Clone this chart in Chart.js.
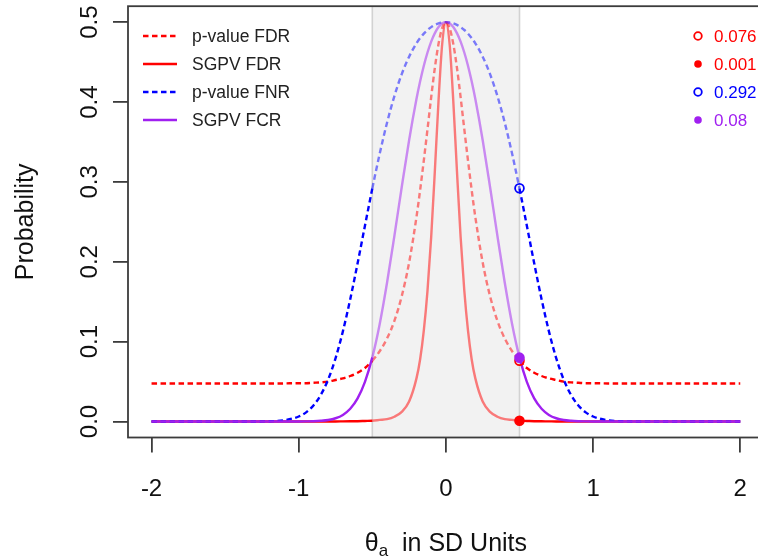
<!DOCTYPE html>
<html>
<head>
<meta charset="utf-8">
<title>SGPV error rates</title>
<script src="https://cdn.jsdelivr.net/npm/chart.js@4/dist/chart.umd.min.js"></script>
<style>
	html, body { margin: 0; padding: 0; background: #fff; overflow: hidden; width: 758px; height: 560px; }
	#sgpv-chart { position: absolute; left: 0; top: 0; }
</style>
</head>
<body>
<canvas id="sgpv-chart" width="770" height="560"></canvas>
<script>
'use strict';

/*================ Data ================*/

var thetaGrid = [-2, -1.8, -1.6, -1.4, -1.3, -1.2, -1.1, -1, -0.95, -0.9, -0.85, -0.8, -0.75, -0.7, -0.65, -0.6, -0.55, -0.5, -0.45, -0.4, -0.35, -0.3, -0.25, -0.2, -0.175, -0.15, -0.125, -0.1, -0.075, -0.05, -0.025,
	0, 0.025, 0.05, 0.075, 0.1, 0.125, 0.15, 0.175, 0.2, 0.25, 0.3, 0.35, 0.4, 0.45, 0.5, 0.55, 0.6, 0.65, 0.7, 0.75, 0.8, 0.85, 0.9, 0.95, 1, 1.1, 1.2, 1.3, 1.4, 1.6, 1.8, 2];

var pValueFdr = [0.0476, 0.0476, 0.0476, 0.0476, 0.0476, 0.0476, 0.0477, 0.048, 0.048, 0.0485, 0.049, 0.050, 0.052, 0.054, 0.057, 0.061, 0.067, 0.076, 0.088, 0.104, 0.126, 0.157, 0.199, 0.256, 0.290, 0.327, 0.366, 0.406, 0.443, 0.473, 0.493,
	0.5, 0.493, 0.473, 0.443, 0.406, 0.366, 0.327, 0.290, 0.256, 0.199, 0.157, 0.126, 0.104, 0.088, 0.076, 0.067, 0.061, 0.057, 0.054, 0.052, 0.050, 0.049, 0.0485, 0.048, 0.048, 0.0477, 0.0476, 0.0476, 0.0476, 0.0476, 0.0476, 0.0476];

var sgpvFdr = [0, 0, 0, 0, 0, 0, 0, 0, 0, 0, 0, 0.0001, 0.0001, 0.0002, 0.0003, 0.0004, 0.0007, 0.001, 0.002, 0.003, 0.006, 0.012, 0.025, 0.054, 0.078, 0.114, 0.164, 0.231, 0.314, 0.402, 0.473,
	0.5, 0.473, 0.402, 0.314, 0.231, 0.164, 0.114, 0.078, 0.054, 0.025, 0.012, 0.006, 0.003, 0.002, 0.001, 0.0007, 0.0004, 0.0003, 0.0002, 0.0001, 0.0001, 0, 0, 0, 0, 0, 0, 0, 0, 0, 0, 0];

var pValueFnr = [0, 0, 0, 0, 0.0001, 0.0003, 0.0016, 0.0063, 0.0115, 0.0201, 0.0334, 0.0527, 0.0791, 0.1129, 0.1532, 0.1981, 0.2452, 0.2917, 0.3352, 0.3741, 0.4075, 0.4350, 0.4568, 0.4736, 0.4801, 0.4857, 0.4902, 0.4938, 0.4966, 0.4985, 0.4996,
	0.5, 0.4996, 0.4985, 0.4966, 0.4938, 0.4902, 0.4857, 0.4801, 0.4736, 0.4568, 0.4350, 0.4075, 0.3741, 0.3352, 0.2917, 0.2452, 0.1981, 0.1532, 0.1129, 0.0791, 0.0527, 0.0334, 0.0201, 0.0115, 0.0063, 0.0016, 0.0003, 0.0001, 0, 0, 0, 0];

var sgpvFcr = [0, 0, 0, 0, 0, 0, 0, 0.0001, 0.0002, 0.0004, 0.0009, 0.0019, 0.0041, 0.0083, 0.0160, 0.0290, 0.0497, 0.0803, 0.1219, 0.1737, 0.2325, 0.2937, 0.3522, 0.4037, 0.4259, 0.4454, 0.4620, 0.4756, 0.4863, 0.4939, 0.4985,
	0.5, 0.4985, 0.4939, 0.4863, 0.4756, 0.4620, 0.4454, 0.4259, 0.4037, 0.3522, 0.2937, 0.2325, 0.1737, 0.1219, 0.0803, 0.0497, 0.0290, 0.0160, 0.0083, 0.0041, 0.0019, 0.0009, 0.0004, 0.0002, 0.0001, 0, 0, 0, 0, 0, 0, 0];

var nullInterval = [-0.5, 0.5];
var markerTheta = 0.5;
var markerValues = [0.076, 0.001, 0.292, 0.08];

var seriesLabels = ['p-value FDR', 'SGPV FDR', 'p-value FNR', 'SGPV FCR'];
var xTicks = [-2, -1, 0, 1, 2];
var yTicks = [0, 0.1, 0.2, 0.3, 0.4, 0.5];
var yTickLabels = ['0.0', '0.1', '0.2', '0.3', '0.4', '0.5'];

/*================ Styles ================*/

var RED = '#FF0000';
var BLUE = '#0000FF';
var PURPLE = '#A020F0';
var RED_LIGHT = 'rgba(255, 0, 0, 0.5)';
var BLUE_LIGHT = 'rgba(0, 0, 255, 0.5)';
var PURPLE_LIGHT = 'rgba(160, 32, 240, 0.5)';
var AXIS_COLOR = '#3c3c3c';
var FONT = '"Liberation Sans", Arial, Helvetica, sans-serif';
var DASH = [5.5, 3.5];

var seriesColors = [RED, RED, BLUE, PURPLE];
var seriesDash = [DASH, [], DASH, []];
var markerFilled = [false, true, false, true];
var markerColors = [RED, RED, BLUE, PURPLE];

function insideNull(ctx) {
	return ctx.p0.parsed.x >= nullInterval[0] && ctx.p1.parsed.x <= nullInterval[1];
}

function curve(label, values, color, light, dash, order) {
	return {
		label: label,
		data: thetaGrid.map(function(t, i) {
			return { x: t, y: values[i] };
		}),
		borderColor: color,
		borderWidth: 2.4,
		borderDash: dash,
		pointRadius: 0,
		fill: false,
		cubicInterpolationMode: 'monotone',
		segment: {
			borderColor: function(ctx) {
				return insideNull(ctx) ? light : color;
			}
		},
		order: order
	};
}

/*================ Decorations (R-style box, labels, legend) ================*/

var decorPlugin = {
	id: 'rDecor',
	beforeDatasetsDraw: function(chart) {
		var ctx = chart.ctx;
		var area = chart.chartArea;
		var x = chart.scales.x;
		var lo = x.getPixelForValue(nullInterval[0]);
		var hi = x.getPixelForValue(nullInterval[1]);
		ctx.save();
		ctx.fillStyle = '#F2F2F2';
		ctx.fillRect(lo, area.top, hi - lo, area.bottom - area.top);
		ctx.strokeStyle = '#D2D2D2';
		ctx.lineWidth = 1.6;
		ctx.beginPath();
		ctx.moveTo(lo, area.top);
		ctx.lineTo(lo, area.bottom);
		ctx.moveTo(hi, area.top);
		ctx.lineTo(hi, area.bottom);
		ctx.stroke();
		ctx.restore();
	},
	afterDraw: function(chart) {
		var ctx = chart.ctx;
		var area = chart.chartArea;
		var xScale = chart.scales.x;
		var yScale = chart.scales.y;

		ctx.save();
		// plot box
		ctx.strokeStyle = AXIS_COLOR;
		ctx.lineWidth = 1.8;
		ctx.strokeRect(area.left, area.top, area.right - area.left, area.bottom - area.top);

		// tick labels
		ctx.fillStyle = '#111';
		ctx.font = '24px ' + FONT;
		ctx.textAlign = 'center';
		ctx.textBaseline = 'alphabetic';
		xTicks.forEach(function(v) {
			ctx.fillText(String(v), xScale.getPixelForValue(v), 496);
		});
		yTicks.forEach(function(v, i) {
			ctx.save();
			ctx.translate(97, yScale.getPixelForValue(v));
			ctx.rotate(-Math.PI / 2);
			ctx.fillText(yTickLabels[i], 0, 0);
			ctx.restore();
		});

		// axis titles
		ctx.font = '25px ' + FONT;
		ctx.save();
		ctx.translate(33, (area.top + area.bottom) / 2);
		ctx.rotate(-Math.PI / 2);
		ctx.fillText('Probability', 0, 0);
		ctx.restore();

		var theta = '\u03B8';
		var rest = '  in SD Units';
		var wTheta = ctx.measureText(theta).width;
		var wRest = ctx.measureText(rest).width;
		ctx.font = '17px ' + FONT;
		var wSub = ctx.measureText('a').width;
		var startX = xScale.getPixelForValue(0) - (wTheta + wSub + wRest) / 2;
		ctx.textAlign = 'left';
		ctx.fillText('a', startX + wTheta, 556);
		ctx.font = '25px ' + FONT;
		ctx.fillText(theta, startX, 551);
		ctx.fillText(rest, startX + wTheta + wSub, 551);

		// legend (left)
		ctx.font = '17.5px ' + FONT;
		ctx.textBaseline = 'middle';
		var rowY = [36, 64, 92, 120];
		seriesLabels.forEach(function(label, i) {
			ctx.strokeStyle = seriesColors[i];
			ctx.lineWidth = 2.4;
			ctx.setLineDash(seriesDash[i]);
			ctx.beginPath();
			ctx.moveTo(143, rowY[i]);
			ctx.lineTo(177, rowY[i]);
			ctx.stroke();
			ctx.setLineDash([]);
			ctx.fillStyle = '#222';
			ctx.fillText(label, 192, rowY[i] + 1);
		});

		// marker legend (right)
		ctx.font = '17px ' + FONT;
		markerValues.forEach(function(v, i) {
			ctx.beginPath();
			ctx.arc(698, rowY[i], 3.8, 0, Math.PI * 2);
			if (markerFilled[i]) {
				ctx.fillStyle = markerColors[i];
				ctx.fill();
			} else {
				ctx.strokeStyle = markerColors[i];
				ctx.lineWidth = 1.8;
				ctx.stroke();
			}
			ctx.fillStyle = markerColors[i];
			ctx.fillText(String(v), 714, rowY[i] + 1);
		});
		ctx.restore();
	}
};

/*================ Chart ================*/

var canvas = document.getElementById('sgpv-chart');

var datasets = [
	curve(seriesLabels[0], pValueFdr, RED, RED_LIGHT, DASH, 4),
	curve(seriesLabels[1], sgpvFdr, RED, RED_LIGHT, [], 3),
	curve(seriesLabels[2], pValueFnr, BLUE, BLUE_LIGHT, DASH, 2),
	curve(seriesLabels[3], sgpvFcr, PURPLE, PURPLE_LIGHT, [], 1),
	{
		label: 'markers',
		data: markerValues.map(function(v) {
			return { x: markerTheta, y: v };
		}),
		showLine: false,
		pointRadius: 4.4,
		pointBorderWidth: 1.8,
		pointBackgroundColor: markerValues.map(function(v, i) {
			return markerFilled[i] ? markerColors[i] : 'rgba(0, 0, 0, 0)';
		}),
		pointBorderColor: markerColors,
		order: 0
	}
];

var tickGrid = {
	drawOnChartArea: false,
	drawTicks: true,
	tickLength: 15,
	color: AXIS_COLOR,
	lineWidth: 1.8
};

new Chart(canvas, {
	type: 'line',
	data: { datasets: datasets },
	options: {
		responsive: false,
		animation: false,
		events: [],
		layout: {
			padding: { top: 4, right: 4.5, left: 0, bottom: 0 }
		},
		scales: {
			x: {
				type: 'linear',
				min: -2.16,
				max: 2.16,
				afterBuildTicks: function(scale) {
					scale.ticks = xTicks.map(function(v) { return { value: v }; });
				},
				afterFit: function(scale) {
					scale.height = 122.5;
				},
				ticks: { display: false },
				grid: tickGrid,
				border: { display: false }
			},
			y: {
				type: 'linear',
				min: -0.02,
				max: 0.52,
				afterBuildTicks: function(scale) {
					scale.ticks = yTicks.map(function(v) { return { value: v }; });
				},
				afterFit: function(scale) {
					scale.width = 128;
				},
				ticks: { display: false },
				grid: tickGrid,
				border: { display: false }
			}
		},
		plugins: {
			legend: { display: false },
			tooltip: { enabled: false }
		}
	},
	plugins: [ decorPlugin ]
});
</script>
</body>
</html>
